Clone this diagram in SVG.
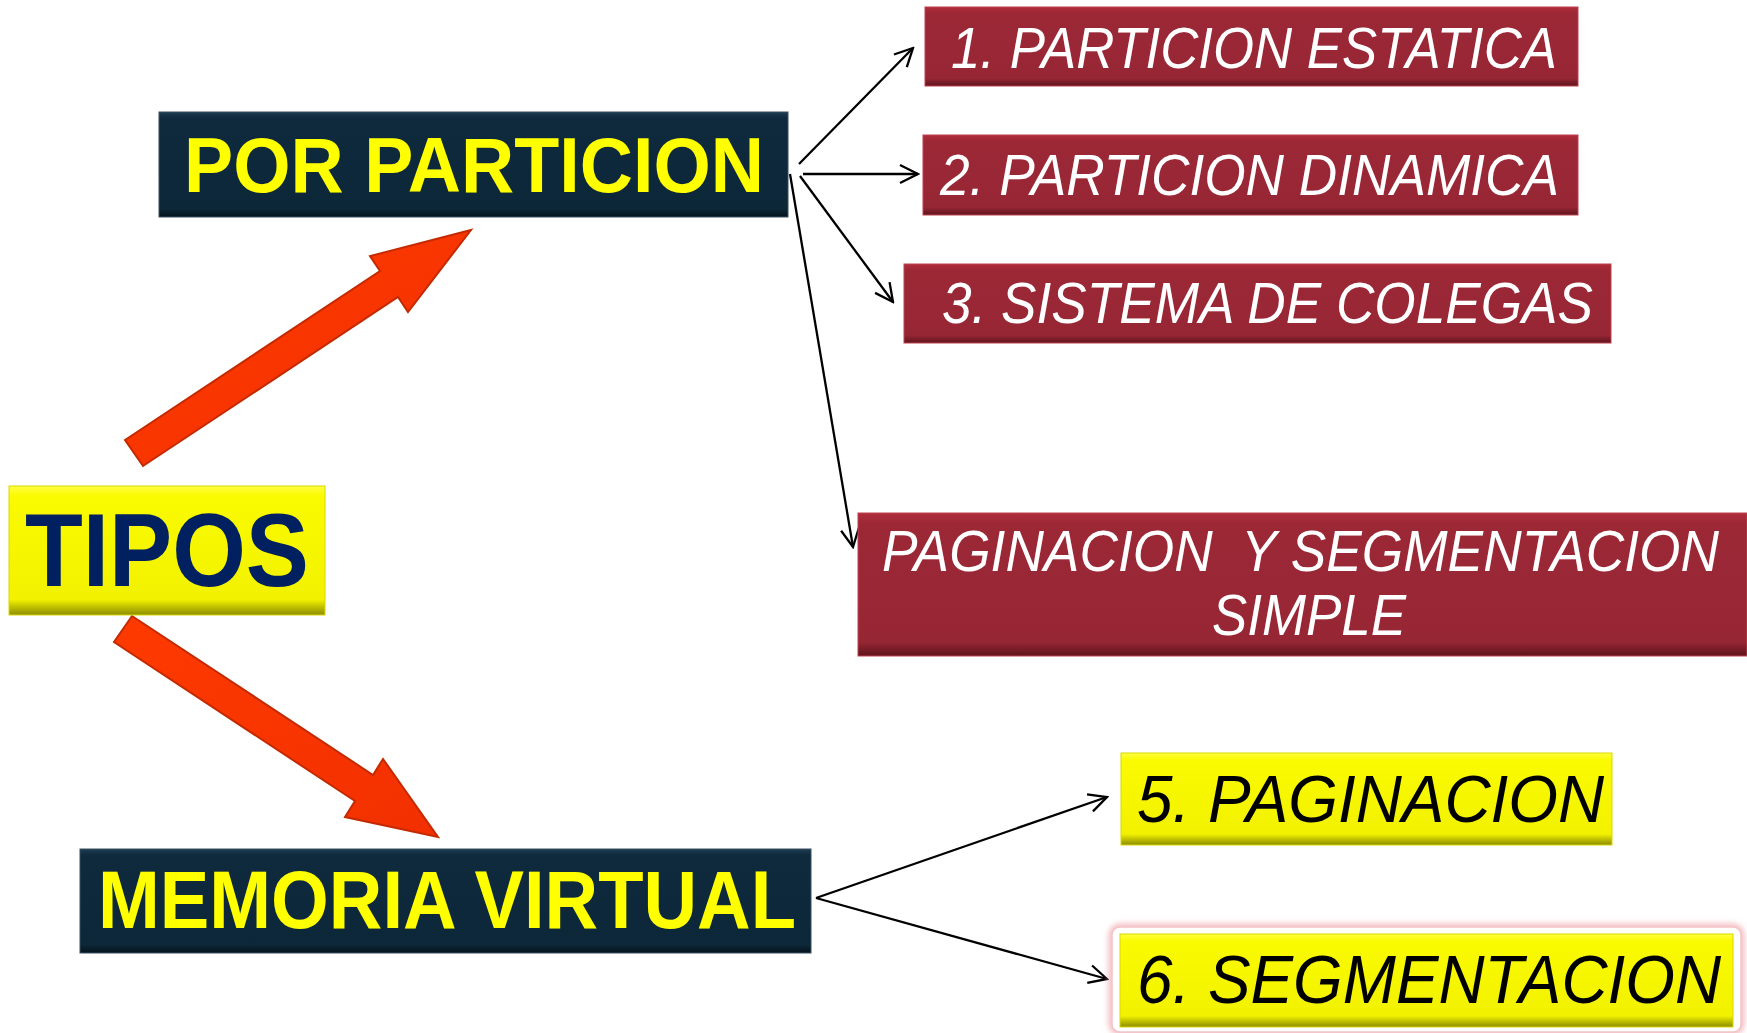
<svg xmlns="http://www.w3.org/2000/svg" width="1747" height="1033" viewBox="0 0 1747 1033">
<style>
.navy{fill:url(#gNavy);stroke:#3a5060;stroke-width:1}
.red{fill:url(#gRed);stroke:#c04050;stroke-width:1}
.yel{fill:url(#gYel);stroke:#d8d800;stroke-width:1}
.big{font-family:"Liberation Sans",Arial,sans-serif;font-weight:bold;fill:#FFFF00}
.tipos{font-family:"Liberation Sans",Arial,sans-serif;font-weight:bold;fill:#002060}
.it{font-family:"Liberation Sans",Arial,sans-serif;font-style:italic;fill:#FFFFFF}
.itb{font-family:"Liberation Sans",Arial,sans-serif;font-style:italic;fill:#000000}
.conn{stroke:#000;stroke-width:2.3;fill:none;marker-end:url(#arr)}
.fat{fill:url(#gArrow);stroke:#c42a00;stroke-width:2;stroke-linejoin:miter}
</style>
<defs>
<linearGradient id="gNavy" x1="0" y1="0" x2="0" y2="1">
<stop offset="0" stop-color="#1d3c52"/><stop offset="0.06" stop-color="#0f2a3d"/><stop offset="0.92" stop-color="#0c2738"/><stop offset="1" stop-color="#04121c"/>
</linearGradient>
<linearGradient id="gRed" x1="0" y1="0" x2="0" y2="1">
<stop offset="0" stop-color="#b02c3a"/><stop offset="0.08" stop-color="#9c2836"/><stop offset="0.9" stop-color="#972634"/><stop offset="1" stop-color="#5e141c"/>
</linearGradient>
<linearGradient id="gYel" x1="0" y1="0" x2="0" y2="1">
<stop offset="0" stop-color="#ffff40"/><stop offset="0.08" stop-color="#fafa00"/><stop offset="0.88" stop-color="#f2f200"/><stop offset="1" stop-color="#8c8c00"/>
</linearGradient>
<linearGradient id="gArrow" x1="0" y1="0" x2="1" y2="1">
<stop offset="0" stop-color="#ff3a00"/><stop offset="1" stop-color="#f23000"/>
</linearGradient>
<filter id="glow" x="-5%" y="-20%" width="110%" height="140%">
<feGaussianBlur stdDeviation="3"/>
</filter>
<marker id="arr" markerUnits="userSpaceOnUse" viewBox="-2 -11 22 22" refX="18" refY="0" markerWidth="22" markerHeight="22" orient="auto">
<path d="M0,-9 L18,0 L0,9" fill="none" stroke="#000" stroke-width="2.3"/>
</marker>
</defs>
<rect width="1747" height="1033" fill="#ffffff"/>

<g id="fat-arrows">
<polygon class="fat" points="125,440 380,271 370,256 471,230 408,312 398,297 143,466"/>
<polygon class="fat" points="132,616 373,775 383,759 438,837 345,817 355,801 114,642"/>
</g>

<g id="connectors">
<line class="conn" x1="799" y1="164" x2="913" y2="48"/>
<line class="conn" x1="803" y1="174" x2="918" y2="174"/>
<line class="conn" x1="800" y1="176" x2="893" y2="302"/>
<line class="conn" x1="790" y1="174" x2="853" y2="547"/>
<line class="conn" x1="816" y1="898" x2="1107" y2="797"/>
<line class="conn" x1="816" y1="898" x2="1107" y2="979"/>
</g>

<g id="por-particion">
<rect class="navy" x="159" y="112" width="629" height="105"/>
<text class="big" x="184" y="192" font-size="78" textLength="580" lengthAdjust="spacingAndGlyphs">POR PARTICION</text>
</g>

<g id="tipos">
<rect class="yel" x="9" y="486" width="316" height="129"/>
<text class="tipos" x="25" y="586" font-size="104" textLength="284" lengthAdjust="spacingAndGlyphs">TIPOS</text>
</g>

<g id="memoria-virtual">
<rect class="navy" x="80" y="849" width="731" height="104"/>
<text class="big" x="98" y="928" font-size="81" textLength="698" lengthAdjust="spacingAndGlyphs">MEMORIA VIRTUAL</text>
</g>

<g id="particion-estatica">
<rect class="red" x="925" y="7" width="653" height="79"/>
<text class="it" x="951" y="68" font-size="58" textLength="606" lengthAdjust="spacingAndGlyphs">1. PARTICION ESTATICA</text>
</g>

<g id="particion-dinamica">
<rect class="red" x="923" y="135" width="655" height="80"/>
<text class="it" x="940" y="195" font-size="58" textLength="619" lengthAdjust="spacingAndGlyphs">2. PARTICION DINAMICA</text>
</g>

<g id="sistema-colegas">
<rect class="red" x="904" y="264" width="707" height="79"/>
<text class="it" x="942" y="323" font-size="58" textLength="651" lengthAdjust="spacingAndGlyphs">3. SISTEMA DE COLEGAS</text>
</g>

<g id="paginacion-segmentacion-simple">
<rect class="red" x="858" y="513" width="889" height="143"/>
<text class="it" transform="translate(882,571) scale(1,1.12)" x="0" y="0" font-size="51.8" textLength="837" lengthAdjust="spacingAndGlyphs" xml:space="preserve">PAGINACION  Y SEGMENTACION</text>
<text class="it" x="1212" y="635" font-size="58" textLength="194" lengthAdjust="spacingAndGlyphs">SIMPLE</text>
</g>

<g id="paginacion">
<rect class="yel" x="1121" y="753" width="491" height="92"/>
<text class="itb" x="1137" y="822" font-size="67" textLength="467" lengthAdjust="spacingAndGlyphs">5. PAGINACION</text>
</g>

<g id="segmentacion">
<rect x="1112" y="927" width="629" height="105" rx="8" fill="none" stroke="#eea0a8" stroke-width="5" filter="url(#glow)"/>
<rect x="1112" y="927" width="629" height="105" rx="8" fill="#ffffff" stroke="#f4c4c8" stroke-width="1.5"/>
<rect class="yel" x="1120" y="934" width="613" height="93"/>
<text class="itb" transform="translate(1137,1003) scale(1,1.106)" x="0" y="0" font-size="61.5" textLength="584" lengthAdjust="spacingAndGlyphs">6. SEGMENTACION</text>
</g>
</svg>
